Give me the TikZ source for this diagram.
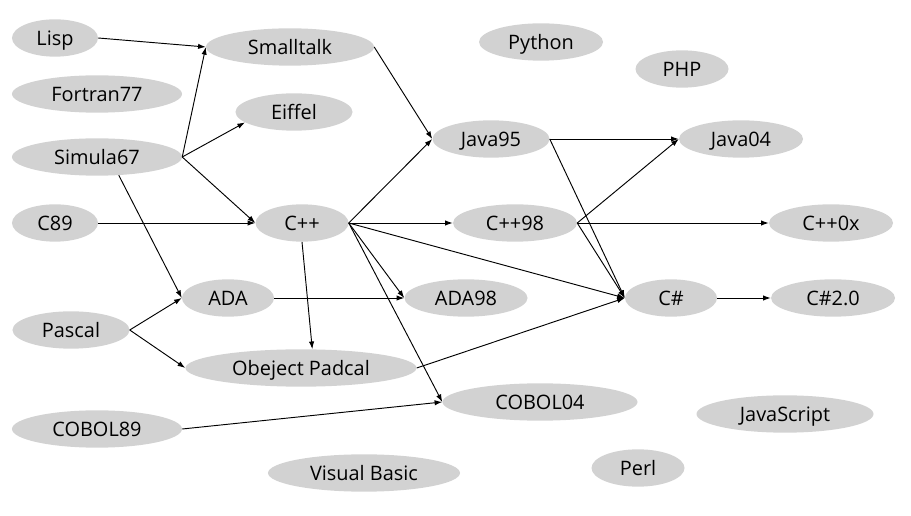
\documentclass[tikz,border=0pt]{standalone}
\usepackage{fontspec}
\setmainfont{Open Sans}
\usetikzlibrary{shapes.geometric,arrows.meta}
\definecolor{langgray}{RGB}{210,210,210}
\begin{document}
\begin{tikzpicture}[x=0.03cm, y=-0.03cm,
		lang/.style={ellipse, fill=langgray, inner sep=0pt, minimum height=1.12cm, text height=13pt, text depth=1pt, font=\fontsize{17pt}{20pt}\selectfont},
		link/.style={-{Latex[length=2.3mm,width=1.6mm]}, line width=0.8pt}]
	\useasboundingbox (0,0) rectangle (911,516);
	\node[lang, minimum width=2.58cm] (lisp) at (55,38) {Lisp};
	\node[lang, minimum width=5.04cm] (smalltalk) at (290,47) {Smalltalk};
	\node[lang, minimum width=5.1cm] (fortran) at (97,94) {Fortran77};
	\node[lang, minimum width=3.51cm] (eiffel) at (294,112) {Eiffel};
	\node[lang, minimum width=5.1cm] (simula) at (97,157) {Simula67};
	\node[lang, minimum width=2.58cm] (c89) at (55,223) {C89};
	\node[lang, minimum width=2.79cm] (cpp) at (302,223) {C++};
	\node[lang, minimum width=3.72cm] (python) at (541,42) {Python};
	\node[lang, minimum width=2.79cm] (php) at (682,69) {PHP};
	\node[lang, minimum width=3.51cm] (java95) at (491,139) {Java95};
	\node[lang, minimum width=3.72cm] (java04) at (741,139) {Java04};
	\node[lang, minimum width=3.72cm] (cpp98) at (515,223) {C++98};
	\node[lang, minimum width=3.72cm] (cpp0x) at (831,223) {C++0x};
	\node[lang, minimum width=2.76cm] (ada) at (228,298) {ADA};
	\node[lang, minimum width=3.69cm] (ada98) at (466,298) {ADA98};
	\node[lang, minimum width=2.76cm] (csharp) at (671,298) {C\#};
	\node[lang, minimum width=3.72cm] (csharp2) at (833,298) {C\#2.0};
	\node[lang, minimum width=3.51cm] (pascal) at (71,330) {Pascal};
	\node[lang, minimum width=6.93cm] (objpascal) at (301,368) {Obeject Padcal};
	\node[lang, minimum width=5.85cm] (cobol04) at (540,402) {COBOL04};
	\node[lang, minimum width=5.31cm] (javascript) at (785,414) {JavaScript};
	\node[lang, minimum width=5.1cm] (cobol89) at (97,429) {COBOL89};
	\node[lang, minimum width=5.76cm] (vb) at (364,473) {Visual Basic};
	\node[lang, minimum width=2.79cm] (perl) at (638,468) {Perl};
	\draw[link] (lisp.east) -- (smalltalk.west);
	\draw[link] (simula.east) -- (smalltalk.west);
	\draw[link] (simula.east) -- (eiffel.192);
	\draw[link] (simula.east) -- (cpp.west);
	\draw[link] (simula.-40) -- (ada.west);
	\draw[link] (c89.east) -- (cpp.west);
	\draw[link] (smalltalk.east) -- (java95.west);
	\draw[link] (cpp.east) -- (java95.west);
	\draw[link] (cpp.east) -- (cpp98.west);
	\draw[link] (cpp.east) -- (csharp.west);
	\draw[link] (cpp.east) -- (ada98.west);
	\draw[link] (cpp.east) -- (cobol04.west);
	\draw[link] (cpp.south) -- (objpascal.59);
	\draw[link] (pascal.east) -- (ada.west);
	\draw[link] (pascal.east) -- (objpascal.west);
	\draw[link] (ada.east) -- (ada98.west);
	\draw[link] (objpascal.east) -- (csharp.west);
	\draw[link] (cobol89.east) -- (cobol04.west);
	\draw[link] (java95.east) -- (java04.west);
	\draw[link] (java95.east) -- (csharp.west);
	\draw[link] (cpp98.east) -- (java04.west);
	\draw[link] (cpp98.east) -- (cpp0x.west);
	\draw[link] (cpp98.east) -- (csharp.west);
	\draw[link] (csharp.east) -- (csharp2.west);
\end{tikzpicture}
\end{document}
